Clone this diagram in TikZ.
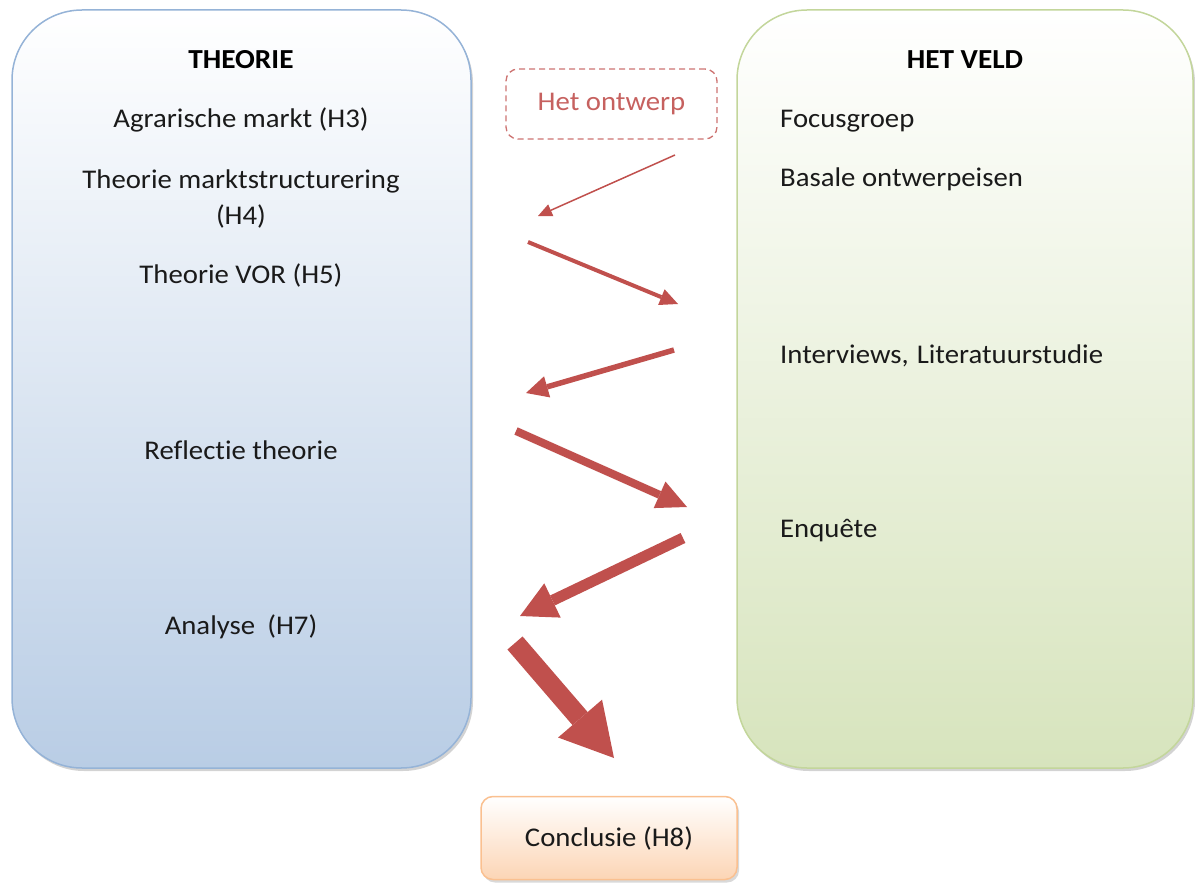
\documentclass[tikz,border=0pt]{standalone}
\usepackage{fontspec}
\setmainfont{Carlito}[FakeStretch=1.065,Ligatures=NoCommon]
\usepackage{xcolor}
\usepackage{tikz}
\usetikzlibrary{arrows.meta,shadows}

\definecolor{rood}{HTML}{C0504D}
\definecolor{blauwrand}{HTML}{95B3D7}
\definecolor{blauwvul}{HTML}{B9CDE5}
\definecolor{groenrand}{HTML}{C3D69B}
\definecolor{groenvul}{HTML}{D7E4BD}
\definecolor{oranjerand}{HTML}{FAC090}
\definecolor{oranjevul}{HTML}{FCD5B5}
\definecolor{tekstkleur}{HTML}{1A1A1A}

\begin{document}
\begin{tikzpicture}[x=1pt,y=-1pt,
  font=\fontsize{27}{36}\selectfont,text=tekstkleur,
  kolom/.style={draw,line width=1.5pt,rounded corners=70pt,
    minimum width=#1,minimum height=758pt,top color=white,
    drop shadow={shadow xshift=2pt,shadow yshift=-3pt,opacity=.35}},
  kop/.style={font=\fontsize{27.5}{33}\selectfont\bfseries,text=black},
  links/.style={anchor=west,inner sep=0pt},
  pijl/.style={rood,line width=#1}]
\useasboundingbox (0,0) rectangle (1195,883);

% de twee kolommen
\node[kolom=459pt,blauwrand,bottom color=blauwvul] (theorie) at (241.5,389) {};
\node[kolom=456pt,groenrand,bottom color=groenvul] (veld) at (965,389) {};

\node[kop] (theoriekop) at (241,60) {THEORIE};
\node (h3) at (241,120) {Agrarische markt (H3)};
\node[align=center] (h4) at (241,199) {Theorie marktstructurering\\(H4)};
\node (h5) at (241,275) {Theorie VOR (H5)};
\node (reflectie) at (241,450) {Reflectie theorie};
\node (h7) at (241,627) {Analyse\hspace{0.45em}(H7)};

\node[kop] (veldkop) at (965,60) {HET VELD};
\node[links] (focus) at (780,121) {Focusgroep};
\node[links] (eisen) at (780,179) {Basale ontwerpeisen};
\node[links] (interviews) at (780,356) {Interviews,\hspace{0.3em}Literatuurstudie};
\node[links] (enquete) at (780,531) {Enquête};

% ontwerp en conclusie
\node[draw=rood!80,text=rood!90,dashed,dash pattern=on 6pt off 4pt,line width=1.3pt,
  rounded corners=12pt,minimum width=211pt,minimum height=70pt] (ontwerp) at (611.5,104) {Het ontwerp};
\node[draw=oranjerand,line width=1.5pt,rounded corners=12pt,top color=white,bottom color=oranjevul,
  minimum width=256pt,minimum height=83pt,
  drop shadow={shadow xshift=2pt,shadow yshift=-3pt,opacity=.3}] (conclusie) at (609,838) {Conclusie (H8)};

% pijlen heen en weer
\coordinate (a1) at (675,155); \coordinate (b1) at (538,216);
\coordinate (a2) at (528,242); \coordinate (b2) at (678,304);
\coordinate (a3) at (674,350); \coordinate (b3) at (526,393);
\coordinate (a4) at (516,431); \coordinate (b4) at (687,507);
\coordinate (a5) at (683,538); \coordinate (b5) at (520,616);
\coordinate (a6) at (515,643); \coordinate (b6) at (614,758);
\draw[pijl=1.5pt,-{Triangle[length=14pt,width=13pt,line width=0pt]}](a1)--(b1);
\draw[pijl=4pt,-{Triangle[length=18pt,width=17pt,line width=0pt]}](a2)--(b2);
\draw[pijl=5.5pt,-{Triangle[length=22pt,width=22pt,line width=0pt]}](a3)--(b3);
\draw[pijl=8pt,-{Triangle[length=30pt,width=29pt,line width=0pt]}](a4)--(b4);
\draw[pijl=11pt,-{Triangle[length=36pt,width=38pt,line width=0pt]}](a5)--(b5);
\draw[pijl=20pt,-{Triangle[length=52pt,width=58pt,line width=0pt]}](a6)--(b6);
\end{tikzpicture}
\end{document}
